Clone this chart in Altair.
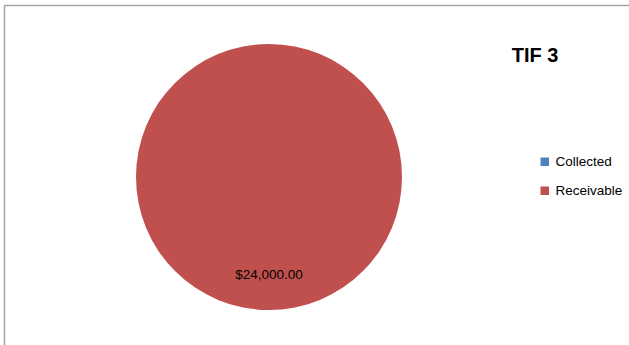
import altair as alt
import pandas as pd

categories = ["Collected", "Receivable"]
values = [0, 24000]
labels = ["$0.00", "$24,000.00"]
colors = ["#4F81BD", "#C0504D"]
title_text = "TIF 3"

df = pd.DataFrame({"category": categories, "value": values, "label": labels,
                   "order": [0, 1]})

FONT = "Liberation Sans"

base = alt.Chart(df)

pie = base.mark_arc(outerRadius=133, stroke=None).encode(
    theta=alt.Theta("value:Q", stack=True),
    color=alt.Color(
        "category:N",
        scale=alt.Scale(domain=categories, range=colors),
        legend=alt.Legend(
            title=None, orient="none", legendX=538, legendY=155,
            symbolType="square", symbolSize=72, symbolStrokeWidth=0,
            labelFont=FONT, labelFontSize=13.5, labelColor="#000000",
            rowPadding=14, labelOffset=4,
        ),
    ),
    order=alt.Order("order:Q"),
)

lbl = base.transform_filter(alt.datum.value > 0).mark_text(
    radius=98, font=FONT, fontSize=13.5, color="#000000"
).encode(
    theta=alt.Theta("value:Q", stack=True),
    text="label:N",
)

title = alt.Chart(pd.DataFrame({"t": [title_text]})).mark_text(
    font=FONT, fontSize=20, fontWeight="bold", color="#000000", align="center",
    baseline="alphabetic"
).encode(x=alt.value(535), y=alt.value(62), text="t:N")

border_top = alt.Chart(pd.DataFrame({"a": [0]})).mark_rule(
    color="#A6A6A6", strokeWidth=1.5
).encode(x=alt.value(4), x2=alt.value(629), y=alt.value(5.5))

border_left = alt.Chart(pd.DataFrame({"a": [0]})).mark_rule(
    color="#A6A6A6", strokeWidth=1.5
).encode(x=alt.value(4.5), y=alt.value(5), y2=alt.value(354))

chart = alt.layer(border_top, border_left, pie, lbl, title).properties(
    width=538, height=354,
    padding={"left": 0, "top": 0, "right": 91, "bottom": 0},
    autosize=alt.AutoSizeParams(type="none"),
    background="#FFFFFF",
).configure_view(stroke=None)

chart.save("out.html", embed_options={"renderer": "svg", "actions": False})
